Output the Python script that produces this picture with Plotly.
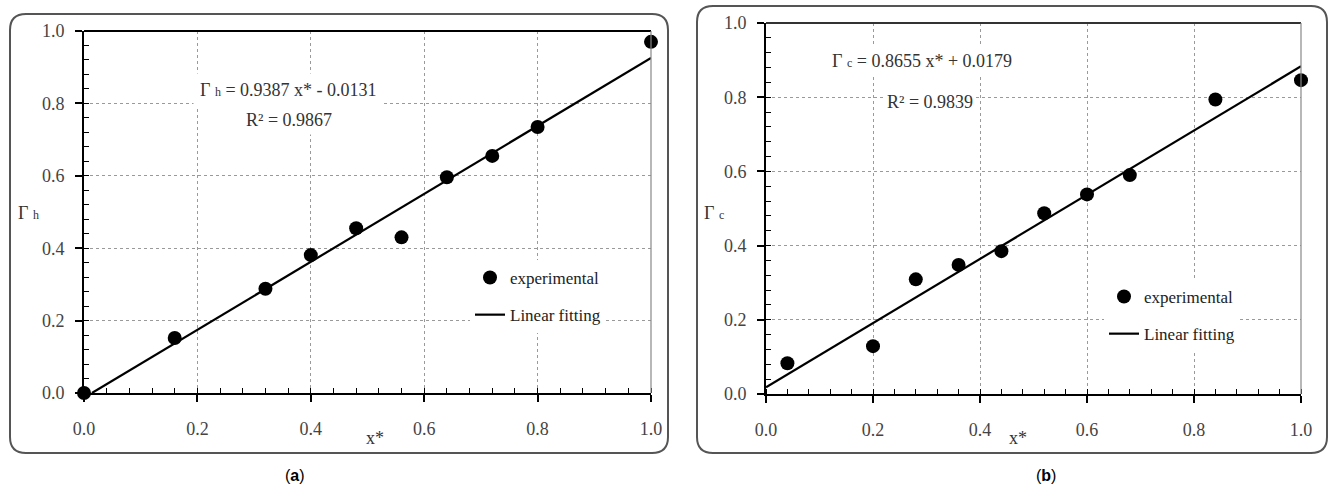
import plotly.graph_objects as go

# ---------------- data ----------------
xa = [0.0, 0.16, 0.32, 0.40, 0.48, 0.56, 0.64, 0.72, 0.80, 1.0]
ya = [0.0, 0.152, 0.288, 0.381, 0.455, 0.430, 0.596, 0.655, 0.735, 0.970]
fit_a = [0.9387, -0.0131]          # slope, intercept
r2_a = "0.9867"

xb = [0.04, 0.20, 0.28, 0.36, 0.44, 0.52, 0.60, 0.68, 0.84, 1.0]
yb = [0.083, 0.129, 0.309, 0.348, 0.385, 0.487, 0.538, 0.590, 0.794, 0.846]
fit_b = [0.8655, 0.0179]
r2_b = "0.9839"

tick_step = 0.2
minor_step = 0.04

W, H = 1332, 503
SERIF = "Liberation Serif"


def px(x):
    return x / W


def py(y):
    return 1 - y / H


# line endpoints from the fitting equations
la_x = [-fit_a[1] / fit_a[0], 1.0]
la_y = [fit_a[0] * v + fit_a[1] for v in la_x]
lb_x = [0.0, 1.0]
lb_y = [fit_b[0] * v + fit_b[1] for v in lb_x]

fig = go.Figure()
fig.add_trace(go.Scatter(x=xa, y=ya, mode="markers", name="experimental",
                         marker=dict(color="black", size=14), cliponaxis=False,
                         xaxis="x", yaxis="y", legend="legend", legendgroup="a1"))
fig.add_trace(go.Scatter(x=la_x, y=la_y, mode="lines", name="Linear fitting",
                         line=dict(color="black", width=2.2),
                         xaxis="x", yaxis="y", legend="legend", legendgroup="a2"))
fig.add_trace(go.Scatter(x=xb, y=yb, mode="markers", name="experimental",
                         marker=dict(color="black", size=14), cliponaxis=False,
                         xaxis="x2", yaxis="y2", legend="legend2", legendgroup="b1"))
fig.add_trace(go.Scatter(x=lb_x, y=lb_y, mode="lines", name="Linear fitting",
                         line=dict(color="black", width=2.2),
                         xaxis="x2", yaxis="y2", legend="legend2", legendgroup="b2"))

tickfont = dict(family=SERIF, size=18, color="#444")


def xax(domain, anchor):
    return dict(domain=domain, anchor=anchor, range=[0, 1],
                tickmode="linear", tick0=0, dtick=tick_step, tickformat=".1f",
                showgrid=True, gridcolor="#9a9a9a", griddash="dot",
                gridwidth=1, showline=True, linecolor="black", linewidth=2,
                ticks="outside", ticklen=7, tickwidth=1.5, tickcolor="black",
                minor=dict(ticks="inside", dtick=minor_step,
                           ticklen=5, tickcolor="black", tickwidth=1, showgrid=False),
                zeroline=False, tickfont=tickfont, ticklabelstandoff=11,
                automargin=False)


def yax(domain, anchor):
    d = xax(domain, anchor)
    d["ticklabelstandoff"] = 7
    return d


fig.update_layout(
    template="none",
    width=W, height=H, margin=dict(l=0, r=0, t=0, b=0, pad=0, autoexpand=False),
    plot_bgcolor="white", paper_bgcolor="white",
    xaxis=xax([px(84), px(651)], "y"),
    yaxis=yax([py(393), py(31)], "x"),
    xaxis2=xax([px(766), px(1301)], "y2"),
    yaxis2=yax([py(394), py(23)], "x2"),
    legend=dict(x=px(470), y=py(260), xanchor="left", yanchor="top",
                bgcolor="white", font=dict(family=SERIF, size=17, color="#222"),
                traceorder="grouped", tracegroupgap=12, borderwidth=0),
    legend2=dict(x=px(1104), y=py(279), xanchor="left", yanchor="top",
                 bgcolor="white", font=dict(family=SERIF, size=17, color="#222"),
                 traceorder="grouped", tracegroupgap=12, borderwidth=0),
)


def rounded(l, t, r, b, rad):
    L, R, T, B = px(l), px(r), py(t), py(b)
    rx, ry = rad / W, rad / H
    return (f"M {L+rx} {T} L {R-rx} {T} Q {R} {T} {R} {T-ry} L {R} {B+ry} "
            f"Q {R} {B} {R-rx} {B} L {L+rx} {B} Q {L} {B} {L} {B+ry} "
            f"L {L} {T-ry} Q {L} {T} {L+rx} {T} Z")


shapes = [
    dict(type="path", path=rounded(10, 14, 668, 453, 16), xref="paper", yref="paper",
         line=dict(color="#555", width=2)),
    dict(type="path", path=rounded(697, 6, 1327, 453, 16), xref="paper", yref="paper",
         line=dict(color="#555", width=2)),
]
for xr, yr, topc in (("x", "y", "black"), ("x2", "y2", "#333")):
    shapes.append(dict(type="line", xref=f"{xr} domain", yref=f"{yr} domain",
                       x0=0, x1=1, y0=1, y1=1, line=dict(color=topc, width=2)))
    shapes.append(dict(type="line", xref=f"{xr} domain", yref=f"{yr} domain",
                       x0=1, x1=1, y0=0, y1=1, line=dict(color="#888", width=1.2)))
fig.update_layout(shapes=shapes)


def small(s):
    return f'<span style="font-size:12px">{s}</span>'


txt = dict(family=SERIF, size=18, color="#333")
ann = [
    dict(x=px(288), y=py(90), text=f"Γ {small('h')} = {fit_a[0]} x* - {abs(fit_a[1])}",
         bgcolor="white", borderpad=6),
    dict(x=px(289), y=py(120), text=f"R² = {r2_a}", bgcolor="white", borderpad=4),
    dict(x=px(922), y=py(61), text=f"Γ {small('c')} = {fit_b[0]} x* + {fit_b[1]}",
         bgcolor="white", borderpad=4),
    dict(x=px(930), y=py(102), text=f"R² = {r2_b}", bgcolor="white", borderpad=2),
    dict(x=px(28), y=py(213), text=f"Γ {small('h')}"),
    dict(x=px(714), y=py(213), text=f"Γ {small('c')}"),
    dict(x=px(375), y=py(438), text="x*"),
    dict(x=px(1018), y=py(438), text="x*"),
]
for a in ann:
    a.update(xref="paper", yref="paper", showarrow=False, font=txt,
             xanchor="center", yanchor="middle")
ann += [
    dict(x=px(283), y=py(486), xref="paper", yref="paper", showarrow=False,
         text="(<b>a</b>)", font=dict(family="Liberation Sans", size=16, color="black")),
    dict(x=px(1058), y=py(486), xref="paper", yref="paper", showarrow=False,
         text="(<b>b</b>)", font=dict(family="Liberation Sans", size=16, color="black")),
]
fig.update_layout(annotations=ann)

fig.write_html("out.html")
